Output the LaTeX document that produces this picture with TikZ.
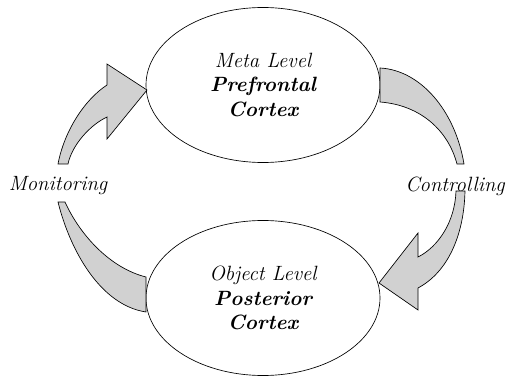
\documentclass[tikz,border=0pt]{standalone}
\usepackage{tikz}
\usetikzlibrary{shapes.geometric}
\definecolor{arrowgrey}{RGB}{209,209,209}

\begin{document}
\begin{tikzpicture}[x=0.6pt, y=-0.6pt,
    level/.style={ellipse, draw=black, thin, inner sep=0pt,
        minimum width=140.4pt, minimum height=93pt, align=center,
        font=\fontsize{12.4}{14.7}\selectfont\itshape},
    loop/.style={draw=black, thin, fill=arrowgrey, line join=miter},
    side/.style={font=\fontsize{12.4}{14.7}\selectfont\itshape}
]
    \useasboundingbox (0,0) rectangle (506,380);

    % Levels
    \node[level] (meta) at (263,85)
        {Meta Level\\\textbf{Prefrontal}\\\textbf{Cortex}};
    \node[level] (object) at (263,298)
        {Object Level\\\textbf{Posterior}\\\textbf{Cortex}};

    % Side labels
    \node[side] (mon) at (58,186) {Monitoring};
    \node[side] (ctl) at (455,186) {Controlling};

    % Monitoring: object -> meta
    \draw[loop] (58,202) .. controls (70,250) and (100,305) .. (146,312)
        -- (146,277) .. controls (110,268) and (80,235) .. (65,202) -- cycle;
    \draw[loop] (58,164) .. controls (64,132) and (84,100) .. (107,85)
        -- (107,64) -- (147,90) -- (107,139) -- (107,117)
        .. controls (90,125) and (72,145) .. (68,164) -- cycle;

    % Controlling: meta -> object
    \draw[loop] (380,68) .. controls (420,70) and (455,110) .. (464,164)
        -- (457,164) .. controls (448,130) and (420,105) .. (380,102) -- cycle;
    \draw[loop] (465,191) .. controls (464,235) and (448,272) .. (418,288)
        -- (418,310) -- (379,283) -- (418,233) -- (418,257)
        .. controls (438,247) and (455,222) .. (456,191) -- cycle;
\end{tikzpicture}
\end{document}
